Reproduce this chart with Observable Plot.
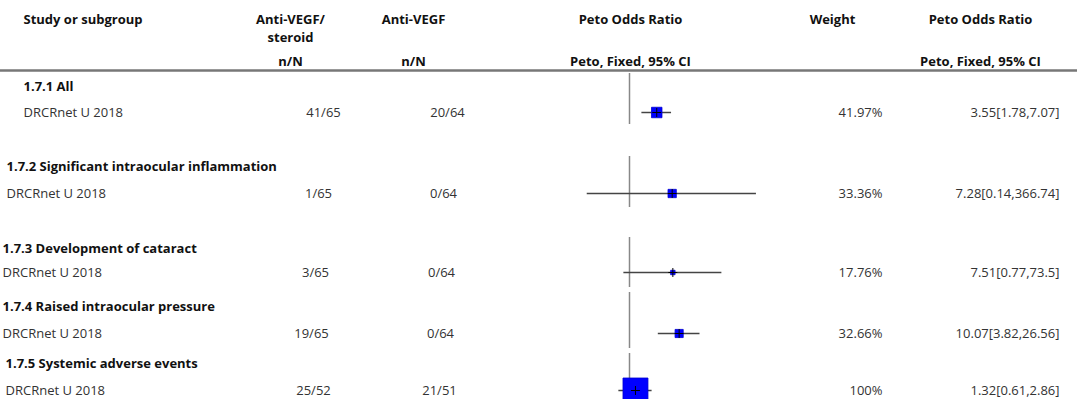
<!DOCTYPE html>
<html><head><meta charset="utf-8">
<script src="https://cdn.jsdelivr.net/npm/d3@7"></script>
<script src="https://cdn.jsdelivr.net/npm/@observablehq/plot@0.6"></script>
<style>
body{margin:0;background:#fff;}
#chart svg{display:block;}
</style>
</head><body><div id="chart"></div>
<script>
// ---- data ----
const subgroups = ["1.7.1 All", "1.7.2 Significant intraocular inflammation", "1.7.3 Development of cataract", "1.7.4 Raised intraocular pressure", "1.7.5 Systemic adverse events"];
const studies = ["DRCRnet U 2018", "DRCRnet U 2018", "DRCRnet U 2018", "DRCRnet U 2018", "DRCRnet U 2018"];
const expEvents = ["41/65", "1/65", "3/65", "19/65", "25/52"];
const ctlEvents = ["20/64", "0/64", "0/64", "0/64", "21/51"];
const oddsRatio = [3.55, 7.28, 7.51, 10.07, 1.32];
const ciLow = [1.78, 0.14, 0.77, 3.82, 0.61];
const ciHigh = [7.07, 366.74, 73.5, 26.56, 2.86];
const weights = [41.97, 33.36, 17.76, 32.66, 100];
const weightLabels = ["41.97%", "33.36%", "17.76%", "32.66%", "100%"];
const ciLabels = ["3.55[1.78,7.07]", "7.28[0.14,366.74]", "7.51[0.77,73.5]", "10.07[3.82,26.56]", "1.32[0.61,2.86]"];
const headerCols = [
  ["Study or subgroup", "", ""],
  ["Anti-VEGF/", "steroid", "n/N"],
  ["Anti-VEGF", "", "n/N"],
  ["Peto Odds Ratio", "", "Peto, Fixed, 95% CI"],
  ["Weight", "", ""],
  ["Peto Odds Ratio", "", "Peto, Fixed, 95% CI"]
];

// ---- layout (pixels / layout units) ----
const W = 1077, H = 399;
const headY = [19, 37, 61];
const headX = [23, 290, 413, 630, 832, 980];
const headAnchor = ["start", "middle", "middle", "middle", "middle", "middle"];
const ruleTopY = 70;
const groupY = [86, 166, 248, 306, 363];
const studyY = [112, 193, 272, 333, 390];
const refTop = [73, 156, 237, 292, 353];
const refBottom = [124, 207, 287, 348, 399];
const indent = [23, 6, 2, 2, 5];
const expX = [323, 318, 315, 311, 313];
const ctlX = [447, 443, 441, 440, 439];
const weightRight = 882;
const ciRight = 1059;

const font = "'Open Sans', 'Noto Sans', sans-serif";
const txt = "#333", bold = "#111";
const fs = 13;

const rows = subgroups.map((g, i) => ({
  i, group: g, study: studies[i], exp: expEvents[i], ctl: ctlEvents[i],
  or: oddsRatio[i], lo: ciLow[i], hi: ciHigh[i], w: weights[i],
  wl: weightLabels[i], cl: ciLabels[i]
}));

const marks = [];
// header
headerCols.forEach((col, c) => {
  col.forEach((t, r) => {
    if (!t) return;
    marks.push(Plot.text([t], {
      text: d => d, y: headY[r], frameAnchor: "left", dx: headX[c],
      textAnchor: headAnchor[c], fontWeight: "bold", fill: bold, fontSize: fs
    }));
  });
});
marks.push(Plot.ruleY([ruleTopY], {stroke: "#777", strokeWidth: 2.5}));

// per-panel text
rows.forEach((d, i) => {
  marks.push(Plot.text([d], {text: "group", y: groupY[i], frameAnchor: "left", dx: indent[i], textAnchor: "start", fontWeight: "bold", fill: bold, fontSize: fs}));
  marks.push(Plot.text([d], {text: "study", y: studyY[i], frameAnchor: "left", dx: indent[i], textAnchor: "start", fill: txt, fontSize: fs}));
  marks.push(Plot.text([d], {text: "exp", y: studyY[i], frameAnchor: "left", dx: expX[i], textAnchor: "middle", fill: txt, fontSize: fs}));
  marks.push(Plot.text([d], {text: "ctl", y: studyY[i], frameAnchor: "left", dx: ctlX[i], textAnchor: "middle", fill: txt, fontSize: fs}));
  marks.push(Plot.text([d], {text: "wl", y: studyY[i], frameAnchor: "left", dx: weightRight, textAnchor: "end", fill: txt, fontSize: fs}));
  marks.push(Plot.text([d], {text: "cl", y: studyY[i], frameAnchor: "left", dx: ciRight, textAnchor: "end", fill: txt, fontSize: fs}));
});

// forest
marks.push(Plot.ruleX(rows, {x: () => 1, y1: d => refTop[d.i], y2: d => refBottom[d.i], stroke: "#888", strokeWidth: 1.5}));
marks.push(Plot.ruleY(rows, {y: d => studyY[d.i], x1: "lo", x2: "hi", stroke: "#444", strokeWidth: 1.5}));
marks.push(Plot.dot(rows, {x: "or", y: d => studyY[d.i], r: "w", symbol: "square", fill: "#0000ff", stroke: "#0000d0", strokeWidth: 0.8}));
marks.push(Plot.dot(rows, {x: "or", y: d => studyY[d.i], r: 3, symbol: "plus", stroke: "#000", strokeWidth: 1}));

const chart = Plot.plot({
  width: W, height: H,
  marginLeft: 0, marginRight: 0, marginTop: 0, marginBottom: 0,
  style: {fontFamily: font, background: "#fff"},
  x: {type: "log", domain: [0.01, 100], range: [530, 728], axis: null},
  y: {type: "linear", domain: [0, H], range: [0, H], axis: null},
  r: {type: "linear", domain: [0, 100], range: [0, 14.1]},
  marks
});
document.getElementById("chart").appendChild(chart);
</script>
</body></html>
